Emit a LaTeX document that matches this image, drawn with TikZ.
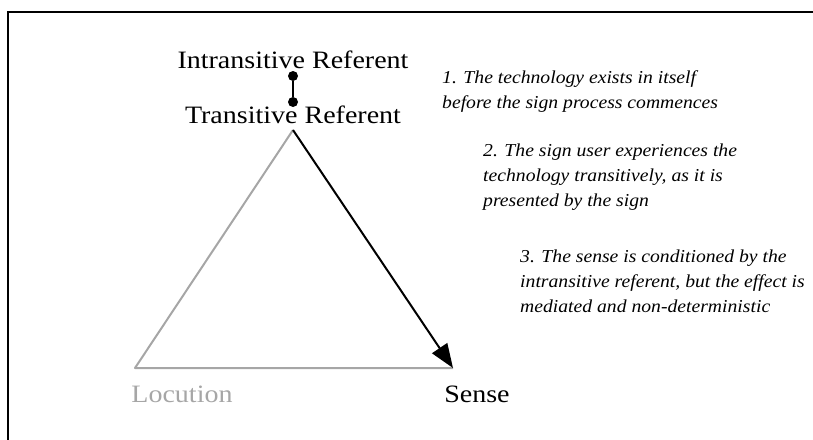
\documentclass[tikz,border=0pt]{standalone}
\usepackage{fontspec}
\setmainfont{Liberation Serif}[FakeStretch=1.12]
\newfontfamily\notefont{Liberation Serif}[FakeStretch=1.08]
\usetikzlibrary{arrows.meta}
\definecolor{lightgrey}{HTML}{A6A6A6}
\begin{document}
\begin{tikzpicture}[x=1pt,y=-1pt,
  label/.style={font=\fontsize{25}{28}\selectfont, inner sep=0pt, anchor=base},
  note/.style={font=\notefont\fontsize{18.2}{25}\selectfont\itshape, inner sep=0pt, anchor=base west, align=left},
  side/.style={line width=2pt, lightgrey},
  dot/.style={circle, fill=black, inner sep=0pt, minimum size=10pt}]
  \useasboundingbox (0,0) rectangle (813,439);
  % frame (only top and left edges fall inside the page)
  \draw[line width=2pt] (7.5,460) -- (7.5,11.5) -- (840,11.5);

  % vertices of the triangle
  \coordinate (apex) at (293,130);
  \coordinate (loc) at (135,368);
  \coordinate (sen) at (453,368);

  % labels
  \node[label] (intr) at (293,68) {Intransitive Referent};
  \node[label] (trans) at (293,123) {Transitive Referent};
  \node[label, lightgrey] (locution) at (182,402) {Locution};
  \node[label] (sense) at (477,402) {Sense};

  % link between the two referents
  \node[dot] (d1) at (293,76) {};
  \node[dot] (d2) at (293,102) {};
  \draw[line width=1.5pt] (d1) -- (d2);

  % triangle
  \draw[side, line join=round] (apex) -- (loc) -- (sen);
  \draw[line width=2pt, -{Triangle[length=24pt, width=18pt]}] (apex) -- (sen);

  % annotations (node base = baseline of the last line)
  \node[note] (n1) at (442,108) {1. The technology exists in itself\\before the sign process commences};
  \node[note] (n2) at (483,206) {2. The sign user experiences the\\technology transitively, as it is\\presented by the sign};
  \node[note] (n3) at (520,312) {3. The sense is conditioned by the\\intransitive referent, but the effect is\\mediated and non-deterministic};
\end{tikzpicture}
\end{document}
